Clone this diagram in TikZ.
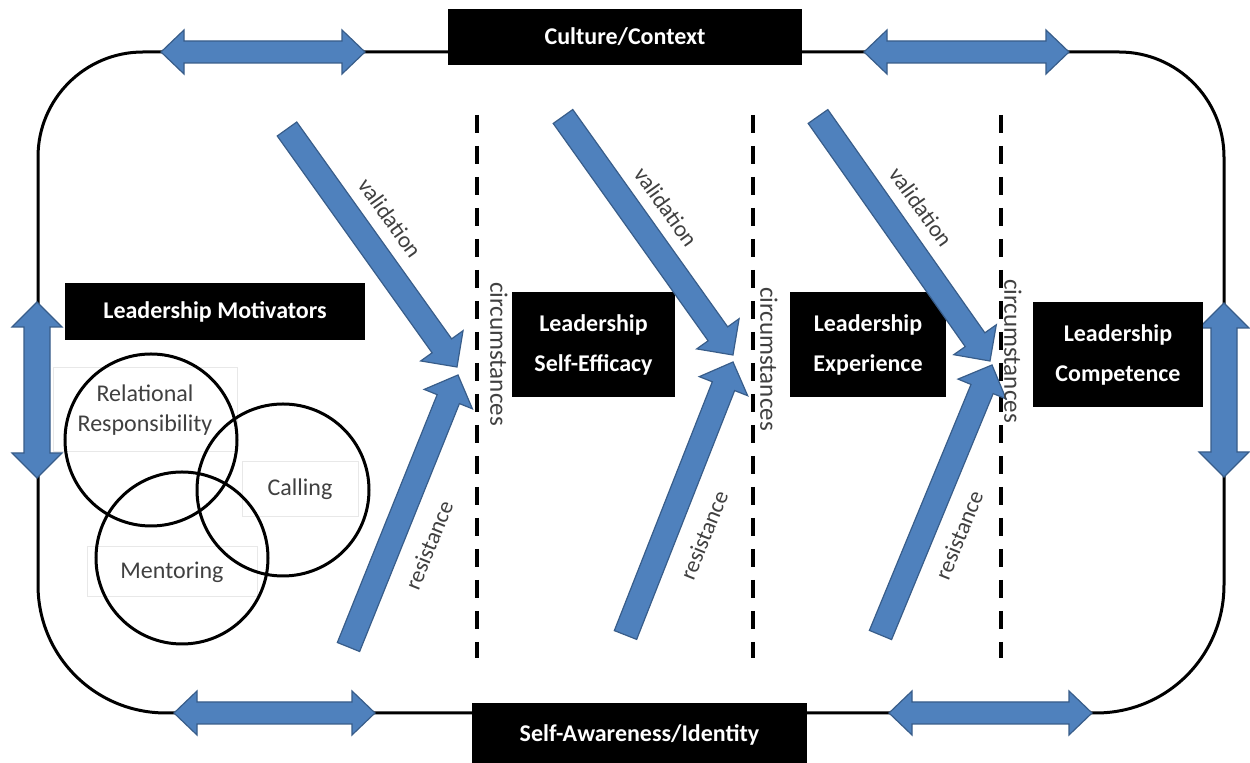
\documentclass[tikz,border=0pt]{standalone}
\usepackage{fontspec}
\setmainfont{Carlito}
\usetikzlibrary{calc}
\definecolor{ablue}{RGB}{79,129,189}
\definecolor{ablueline}{RGB}{56,93,138}
\definecolor{txtgray}{RGB}{64,64,64}
\newcommand\myHarrow[3]{\filldraw[blk] (#1,#3) -- ({#1+23},{#3-22}) -- ({#1+23},{#3-11}) -- ({#2-23},{#3-11}) -- ({#2-23},{#3-22}) -- (#2,#3) -- ({#2-23},{#3+22}) -- ({#2-23},{#3+11}) -- ({#1+23},{#3+11}) -- ({#1+23},{#3+22}) -- cycle;}
\newcommand\myVarrow[3]{\filldraw[blk] (#1,#2) -- ({#1+25},{#2+25}) -- ({#1+13},{#2+25}) -- ({#1+13},{#3-25}) -- ({#1+25},{#3-25}) -- (#1,#3) -- ({#1-25},{#3-25}) -- ({#1-13},{#3-25}) -- ({#1-13},{#2+25}) -- ({#1-25},{#2+25}) -- cycle;}
\newcommand\myFat[2]{%
  \coordinate (#2h) at ($(#2)!13pt!(#1)$);
  \filldraw[blk] ($(#1)!6pt!90:(#2)$) -- ($(#2h)!6pt!-90:(#1)$) -- ($(#2h)!13pt!-90:(#1)$) -- (#2) -- ($(#2h)!13pt!90:(#1)$) -- ($(#2h)!6pt!90:(#1)$) -- ($(#1)!6pt!-90:(#2)$) -- cycle;}
\begin{document}
\begin{tikzpicture}[x=0.5pt,y=-0.5pt,
  blk/.style={fill=ablue,draw=ablueline,line width=0.6pt},
  lbox/.style={fill=black,text=white,font=\fontsize{12}{20}\selectfont\bfseries,align=center,inner sep=0pt},
  lbl/.style={text=txtgray,font=\fontsize{11.5}{14}\selectfont,inner sep=0pt},
  circbox/.style={draw=gray!18,line width=0.5pt,text=txtgray,font=\fontsize{12}{15}\selectfont,align=center,inner sep=0pt},
  venn/.style={draw=black,line width=1.5pt,circle,minimum size=86pt,inner sep=0pt},
  sep/.style={draw=black,line width=2pt,dash pattern=on 9pt off 6.5pt},
  outline/.style={draw=black,line width=1.5pt}]
\useasboundingbox[fill=white] (0,0) rectangle (1250,763);
% outer frame
\draw[outline] (143,52) -- (1119,52) .. controls (1177,52) and (1224,99) .. (1224,157) -- (1224,585) .. controls (1224,656) and (1167,713) .. (1096,713) -- (166,713) .. controls (95,713) and (38,656) .. (38,585) -- (38,157) .. controls (38,99) and (85,52) .. (143,52) -- cycle;
% double arrows on frame
\myHarrow{161}{365}{52}
\myHarrow{864}{1069}{52}
\myHarrow{174}{375}{713}
\myHarrow{889}{1092}{713}
\myVarrow{37}{302}{478}
\myVarrow{1224}{303}{477}
% frame labels
\node[lbox,minimum width=177pt,minimum height=28pt] (cult) at (625,37) {Culture/Context};
\node[lbox,minimum width=167.5pt,minimum height=32pt] (self) at (639.5,735) {Self-Awareness/Identity};
% stage boxes
\node[lbox,minimum width=150pt,minimum height=28.5pt] (motiv) at (215,311.5) {Leadership Motivators};
\node[lbox,minimum width=81.5pt,minimum height=52.5pt] (eff) at (593.5,344.5) {Leadership\\Self-Efficacy};
\node[lbox,minimum width=78pt,minimum height=52.5pt] (exp) at (868,344.5) {Leadership\\Experience};
\node[lbox,minimum width=85pt,minimum height=52.5pt] (comp) at (1118,354.5) {Leadership\\Competence};
% dashed separators
\coordinate (d1t) at (477,115); \coordinate (d1b) at (477,658);
\coordinate (d2t) at (753,115); \coordinate (d2b) at (753,658);
\coordinate (d3t) at (1001,115); \coordinate (d3b) at (1001,658);
\draw[sep] (d1t) -- (d1b);
\draw[sep] (d2t) -- (d2b);
\draw[sep] (d3t) -- (d3b);
% diagonal arrows
\coordinate (v1s) at (287,129);   \coordinate (v1t) at (457,367);
\coordinate (v2s) at (563,116.5); \coordinate (v2t) at (733,355);
\coordinate (v3s) at (818,116.5); \coordinate (v3t) at (990,361);
\coordinate (r1s) at (348.5,647); \coordinate (r1t) at (458,375);
\coordinate (r2s) at (625.5,635); \coordinate (r2t) at (733,362);
\coordinate (r3s) at (880.5,635); \coordinate (r3t) at (992,365);
\myFat{v1s}{v1t}
\myFat{v2s}{v2t}
\myFat{v3s}{v3t}
\myFat{r1s}{r1t}
\myFat{r2s}{r2t}
\myFat{r3s}{r3t}
% labels
\node[lbl,rotate=-54.5] (lv1) at (390,218) {validation};
\node[lbl,rotate=-54.5] (lv2) at (666,207) {validation};
\node[lbl,rotate=-54.5] (lv3) at (921,207) {validation};
\node[lbl,rotate=68] (lr1) at (429,545) {resistance};
\node[lbl,rotate=68] (lr2) at (704,535) {resistance};
\node[lbl,rotate=68] (lr3) at (959,535) {resistance};
\node[lbl,font=\fontsize{12.5}{14}\selectfont,rotate=-90] (lc1) at (499,354) {circumstances};
\node[lbl,font=\fontsize{12.5}{14}\selectfont,rotate=-90] (lc2) at (769,359) {circumstances};
\node[lbl,font=\fontsize{12.5}{14}\selectfont,rotate=-90] (lc3) at (1013,351) {circumstances};
% motivators venn
\node[circbox,minimum width=92pt,minimum height=42pt] (trr) at (145,410) {Relational\\Responsibility};
\node[circbox,minimum width=58pt,minimum height=27.5pt] (tca) at (300,489.5) {Calling};
\node[circbox,minimum width=85pt,minimum height=25pt] (tme) at (172,572) {Mentoring};
\node[venn] (c1) at (151,440) {};
\node[venn] (c2) at (283,490) {};
\node[venn] (c3) at (182,558) {};
\end{tikzpicture}
\end{document}
